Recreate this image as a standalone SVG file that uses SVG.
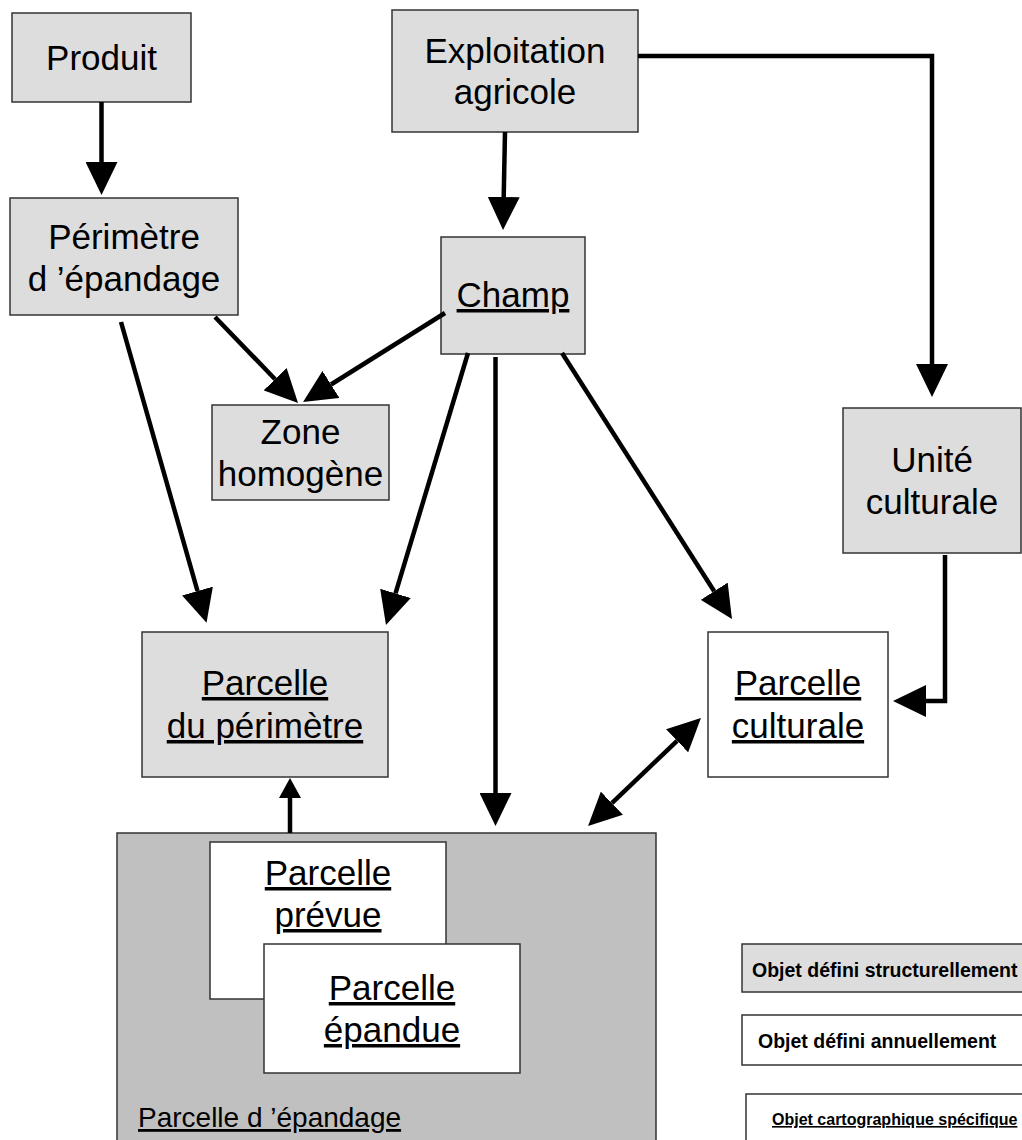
<svg xmlns="http://www.w3.org/2000/svg" width="1022" height="1140" viewBox="0 0 1022 1140">
<style>
  .s { fill: #dddddd; stroke: #333333; stroke-width: 1.5; }
  .a { fill: #ffffff; stroke: #333333; stroke-width: 1.5; }
  .big { fill: #c0c0c0; stroke: #333333; stroke-width: 1.5; }
  .t { font-family: "Liberation Sans", Arial, sans-serif; font-size: 35px; fill: #000000; text-anchor: middle; }
  .u { text-decoration: underline; }
  .lg { font-family: "Liberation Sans", Arial, sans-serif; font-weight: bold; fill: #000000; }
  .ln { fill: none; stroke: #000000; stroke-width: 4.5; stroke-linejoin: miter; }
</style>
<defs>
  <marker id="ah" markerUnits="userSpaceOnUse" viewBox="0 0 33 32" refX="0" refY="16" markerWidth="33" markerHeight="32" orient="auto">
    <path d="M0,0 L33,16 L0,32 Z" fill="#000000"/>
  </marker>
  <marker id="ahr" markerUnits="userSpaceOnUse" viewBox="0 0 33 32" refX="0" refY="16" markerWidth="33" markerHeight="32" orient="auto-start-reverse">
    <path d="M0,0 L33,16 L0,32 Z" fill="#000000"/>
  </marker>
  <marker id="ahs" markerUnits="userSpaceOnUse" viewBox="0 0 20 22" refX="0" refY="11" markerWidth="20" markerHeight="22" orient="auto">
    <path d="M0,0 L20,11 L0,22 Z" fill="#000000"/>
  </marker>
</defs>

<g id="node-produit">
  <rect class="s" x="12" y="13" width="179" height="89"/>
  <text class="t" x="101.5" y="70">Produit</text>
</g>
<g id="node-exploitation">
  <rect class="s" x="392" y="10" width="246" height="122"/>
  <text class="t" x="515" y="63">Exploitation</text>
  <text class="t" x="515" y="104">agricole</text>
</g>
<g id="node-perimetre">
  <rect class="s" x="10" y="198" width="228" height="117"/>
  <text class="t" x="124" y="249">Périmètre</text>
  <text class="t" x="124" y="291">d ’épandage</text>
</g>
<g id="node-champ">
  <rect class="s" x="441" y="237" width="144" height="117"/>
  <text class="t u" x="513" y="307">Champ</text>
</g>
<g id="node-zone">
  <rect class="s" x="212" y="405" width="177" height="95"/>
  <text class="t" x="300.5" y="444">Zone</text>
  <text class="t" x="300.5" y="486">homogène</text>
</g>
<g id="node-unite">
  <rect class="s" x="843" y="408" width="178" height="145"/>
  <text class="t" x="932" y="472">Unité</text>
  <text class="t" x="932" y="514">culturale</text>
</g>
<g id="node-parcelle-perimetre">
  <rect class="s" x="142" y="632" width="246" height="145"/>
  <text class="t u" x="265" y="695">Parcelle</text>
  <text class="t u" x="265" y="738">du périmètre</text>
</g>
<g id="node-parcelle-culturale">
  <rect class="a" x="708" y="632" width="180" height="145"/>
  <text class="t u" x="798" y="695">Parcelle</text>
  <text class="t u" x="798" y="738">culturale</text>
</g>
<g id="node-parcelle-epandage">
  <rect class="big" x="117" y="833" width="539" height="320"/>
  <text class="t u" x="138" y="1127" style="font-size:28px;text-anchor:start">Parcelle d ’épandage</text>
</g>
<g id="node-parcelle-prevue">
  <rect class="a" x="210" y="842" width="236" height="157"/>
  <text class="t u" x="328" y="885">Parcelle</text>
  <text class="t u" x="328" y="927">prévue</text>
</g>
<g id="node-parcelle-epandue">
  <rect class="a" x="264" y="944" width="256" height="129"/>
  <text class="t u" x="392" y="1000">Parcelle</text>
  <text class="t u" x="392" y="1042">épandue</text>
</g>

<g id="legend">
  <g id="legend-structurel">
    <rect class="s" x="742" y="944" width="300" height="48"/>
    <text class="lg" x="752" y="977" style="font-size:19.5px">Objet défini structurellement</text>
  </g>
  <g id="legend-annuel">
    <rect class="a" x="742" y="1015" width="300" height="50"/>
    <text class="lg" x="758" y="1048" style="font-size:19.5px">Objet défini annuellement</text>
  </g>
  <g id="legend-carto">
    <rect class="a" x="746" y="1094" width="300" height="60"/>
    <text class="lg u" x="772" y="1125" style="font-size:16px">Objet cartographique spécifique</text>
  </g>
</g>

<g id="connectors">
  <line class="ln" x1="101.5" y1="102" x2="101.5" y2="162" marker-end="url(#ah)"/>
  <line class="ln" x1="505" y1="132" x2="503.7" y2="197" marker-end="url(#ah)"/>
  <polyline class="ln" points="638,56 932,56 932,364" marker-end="url(#ah)"/>
  <line class="ln" x1="121" y1="322" x2="197.5" y2="591" marker-end="url(#ah)"/>
  <line class="ln" x1="215" y1="317" x2="275.1" y2="379.2" marker-end="url(#ah)"/>
  <line class="ln" x1="445" y1="313" x2="331" y2="384.5" marker-end="url(#ah)"/>
  <line class="ln" x1="468" y1="353" x2="395.5" y2="593.4" marker-end="url(#ah)"/>
  <line class="ln" x1="495.5" y1="357" x2="495.5" y2="793" marker-end="url(#ah)"/>
  <line class="ln" x1="562" y1="353" x2="714.2" y2="591.2" marker-end="url(#ah)"/>
  <polyline class="ln" points="945,555 945,701 926,701" marker-end="url(#ah)"/>
  <line class="ln" x1="611.9" y1="803.2" x2="677.1" y2="740.8" marker-start="url(#ahr)" marker-end="url(#ahr)"/>
  <line class="ln" x1="290" y1="833" x2="290" y2="798" marker-end="url(#ahs)"/>
</g>
</svg>
